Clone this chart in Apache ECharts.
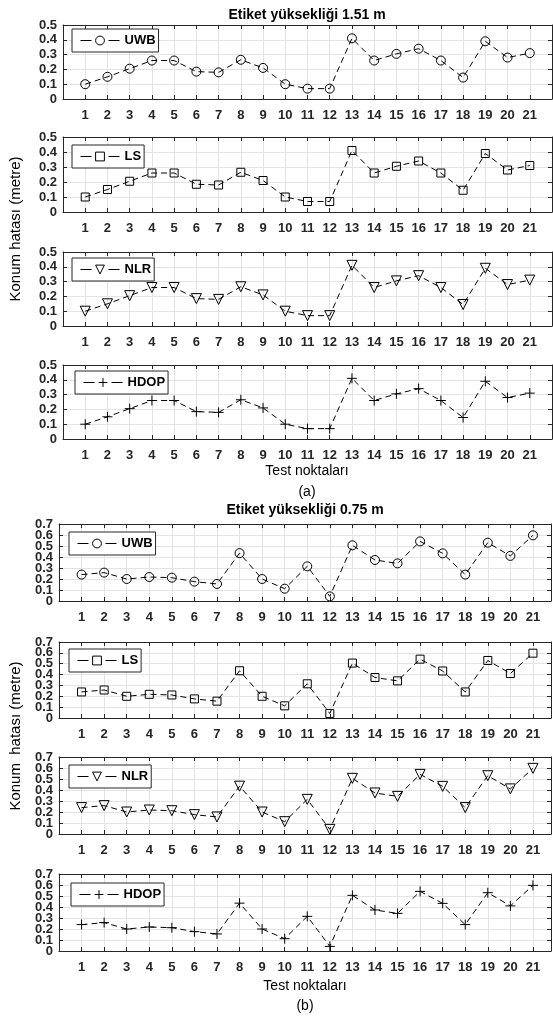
<!DOCTYPE html>
<html>
<head>
<meta charset="utf-8">
<script src="https://cdn.jsdelivr.net/npm/echarts@6/dist/echarts.min.js"></script>
<style>
html,body{margin:0;padding:0;background:#fff;}
#c{width:553px;height:1018px;}
</style>
</head>
<body>
<div id="c"></div>
<script>
// ---- data ----
const cats = [1,2,3,4,5,6,7,8,9,10,11,12,13,14,15,16,17,18,19,20,21];
// (a) tag height 1.51 m
const uwbA  = [0.10,0.15,0.205,0.26,0.26,0.185,0.18,0.265,0.21,0.10,0.07,0.07,0.41,0.26,0.305,0.34,0.26,0.145,0.39,0.28,0.31];
const lsA   = [0.10,0.15,0.205,0.26,0.26,0.185,0.18,0.265,0.21,0.10,0.07,0.07,0.41,0.26,0.305,0.34,0.26,0.145,0.39,0.28,0.31];
const nlrA  = [0.10,0.15,0.205,0.26,0.26,0.185,0.18,0.265,0.21,0.10,0.07,0.07,0.41,0.26,0.305,0.34,0.26,0.145,0.39,0.28,0.31];
const hdopA = [0.10,0.15,0.205,0.26,0.26,0.185,0.18,0.265,0.21,0.10,0.07,0.07,0.41,0.26,0.305,0.34,0.26,0.145,0.39,0.28,0.31];
// (b) tag height 0.75 m
const uwbB  = [0.24,0.258,0.20,0.218,0.212,0.176,0.155,0.435,0.20,0.112,0.315,0.042,0.506,0.373,0.342,0.542,0.433,0.24,0.53,0.41,0.597];
const lsB   = [0.24,0.258,0.20,0.218,0.212,0.176,0.155,0.435,0.20,0.112,0.315,0.042,0.506,0.373,0.342,0.542,0.433,0.24,0.53,0.41,0.597];
const nlrB  = [0.24,0.258,0.20,0.218,0.212,0.176,0.155,0.435,0.20,0.112,0.315,0.042,0.506,0.373,0.342,0.542,0.433,0.24,0.53,0.41,0.597];
const hdopB = [0.24,0.258,0.20,0.218,0.212,0.176,0.155,0.435,0.20,0.112,0.315,0.042,0.506,0.373,0.342,0.542,0.433,0.24,0.53,0.41,0.597];
const seriesNames = ['UWB','LS','NLR','HDOP'];
const yTicksA = [0,0.1,0.2,0.3,0.4,0.5];
const yTicksB = [0,0.1,0.2,0.3,0.4,0.5,0.6,0.7];
const titleA = 'Etiket yüksekliği 1.51 m';
const titleB = 'Etiket yüksekliği 0.75 m';
const xLabel = 'Test noktaları';
const yLabelA = 'Konum hatası (metre)';
const yLabelB = 'Konum  hatası (metre)';

// ---- layout ----
const FONT = '"Liberation Sans", Arial, sans-serif';
const plusPath = 'path://M0,5L10,5M5,0L5,10';
const markers = [
  {symbol:'circle', size:9, rotate:0},
  {symbol:'rect', size:8, rotate:0},
  {symbol:'triangle', size:10, rotate:180},
  {symbol:plusPath, size:10, rotate:0}
];
const panels = [
  {top:25,  h:74, left:63, w:489, xMax:22,   yMax:0.5, ticks:yTicksA, data:uwbA,  k:0, lx:72, ly:29},
  {top:137, h:75, left:63, w:489, xMax:22,   yMax:0.5, ticks:yTicksA, data:lsA,   k:1, lx:72, ly:145},
  {top:252, h:74, left:63, w:489, xMax:22,   yMax:0.5, ticks:yTicksA, data:nlrA,  k:2, lx:72, ly:258},
  {top:365, h:74, left:63, w:489, xMax:22,   yMax:0.5, ticks:yTicksA, data:hdopA, k:3, lx:75, ly:371},
  {top:524, h:77, left:59, w:492, xMax:21.8, yMax:0.7, ticks:yTicksB, data:uwbB,  k:0, lx:69, ly:532},
  {top:642, h:76, left:59, w:492, xMax:21.8, yMax:0.7, ticks:yTicksB, data:lsB,   k:1, lx:69, ly:649},
  {top:757, h:77, left:59, w:492, xMax:21.8, yMax:0.7, ticks:yTicksB, data:nlrB,  k:2, lx:69, ly:765},
  {top:874, h:77, left:59, w:492, xMax:21.8, yMax:0.7, ticks:yTicksB, data:hdopB, k:3, lx:71, ly:883}
];

const AX = '#262626';
const GRIDC = '#e3e3e3';
const fmtY = v => Math.abs(v)<1e-9 ? '0' : (Math.round(v*10)/10).toFixed(1);
const labelStyle = {color:'#262626', fontFamily:FONT, fontSize:13, fontWeight:'bold'};
const grid = [], xAxis = [], yAxis = [], series = [], legend = [];
panels.forEach((p, i) => {
  grid.push({left:p.left, top:p.top, width:p.w, height:p.h, containLabel:false, outerBoundsMode:'none'});
  const common = {type:'value', gridIndex:i, min:0, animation:false};
  const boxLine = {show:true, onZero:false, lineStyle:{color:AX, width:1}};
  const inTick = {show:true, inside:true, length:4, lineStyle:{color:AX}};
  xAxis.push(Object.assign({}, common, {
    max:p.xMax, interval:1, position:'bottom',
    axisLine:boxLine, axisTick:inTick,
    axisLabel:Object.assign({show:true, margin:10, hideOverlap:false,
      customValues:cats}, labelStyle, {formatter:v => String(Math.round(v))}),
    splitLine:{show:true, lineStyle:{color:GRIDC, width:1}}
  }));
  xAxis.push(Object.assign({}, common, {
    max:p.xMax, interval:1, position:'top',
    axisLine:boxLine, axisTick:inTick,
    axisLabel:{show:false}, splitLine:{show:false}
  }));
  const evens = p.ticks.filter((t, j) => j % 2 === 0);
  const odds = p.ticks.filter((t, j) => j % 2 === 1);
  // main left axis (even tick labels)
  yAxis.push(Object.assign({}, common, {
    max:p.yMax, interval:0.1, position:'left',
    axisLine:boxLine, axisTick:inTick,
    axisLabel:Object.assign({show:true, margin:6, hideOverlap:false, customValues:evens}, labelStyle, {formatter:fmtY}),
    splitLine:{show:true, lineStyle:{color:GRIDC, width:1}}
  }));
  // right box axis
  yAxis.push(Object.assign({}, common, {
    max:p.yMax, interval:0.1, position:'right',
    axisLine:boxLine, axisTick:inTick,
    axisLabel:{show:false}, splitLine:{show:false}
  }));
  // left label-only axis (odd tick labels)
  yAxis.push(Object.assign({}, common, {
    max:p.yMax, interval:0.1, position:'left',
    axisLine:{show:false}, axisTick:{show:false}, splitLine:{show:false},
    axisLabel:Object.assign({show:true, margin:6, hideOverlap:false, customValues:odds}, labelStyle, {formatter:fmtY})
  }));
  const m = markers[p.k];
  const name = seriesNames[p.k];
  series.push({
    id:name + '_' + i, name:name, type:'line', xAxisIndex:2*i, yAxisIndex:3*i,
    data:cats.map((c, j) => [c, p.data[j]]),
    symbol:m.symbol, symbolSize:m.size, symbolRotate:m.rotate, showSymbol:true, showAllSymbol:true,
    lineStyle:{color:'#000', width:1, type:[6,4]},
    itemStyle:{color:'transparent', borderColor:'#000', borderWidth:1},
    emphasis:{disabled:true}, silent:true, z:3, animation:false
  });
  legend.push({
    left:p.lx, top:p.ly, orient:'horizontal', selectedMode:false,
    data:[name], itemWidth:39, itemHeight:11, itemGap:0,
    padding:[5,3,5,8], borderColor:AX, borderWidth:1, backgroundColor:'#fff',
    textStyle:{color:'#000', fontFamily:FONT, fontSize:13, fontWeight:'bold'},
    lineStyle:{color:'#000', width:1, type:[11,17]},
    itemStyle:{color:'transparent', borderColor:'#000', borderWidth:1},
    symbolRotate:'inherit', z:10
  });
});

function txt(text, x, y, font, rot) {
  return {type:'text', x:x, y:y, rotation:rot||0, z:20,
    style:{text:text, font:font, fill:'#000', align:'center', verticalAlign:'middle'}};
}
const graphic = [
  txt(titleA, 307, 15, 'bold 14px ' + FONT),
  txt(xLabel, 307, 471, '14px ' + FONT),
  txt('(a)', 307, 492, '14px ' + FONT),
  txt(titleB, 305, 510, 'bold 14px ' + FONT),
  txt(xLabel, 305, 986, '14px ' + FONT),
  txt('(b)', 305, 1006, '14px ' + FONT),
  txt(yLabelA, 16, 229, '15px ' + FONT, Math.PI/2),
  txt(yLabelB, 16, 736, '15px ' + FONT, Math.PI/2)
];

const chart = echarts.init(document.getElementById('c'), null, {renderer:'canvas'});
chart.setOption({
  animation:false,
  backgroundColor:'#fff',
  grid:grid, xAxis:xAxis, yAxis:yAxis, series:series, legend:legend, graphic:graphic
});
</script>
</body>
</html>
